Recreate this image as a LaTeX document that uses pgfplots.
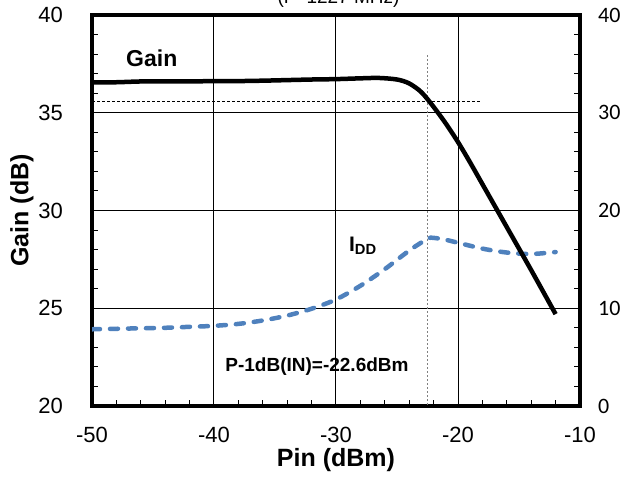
\documentclass[border=0pt]{standalone}
\usepackage{pgfplots}
\pgfplotsset{compat=1.18}
\usepackage{fontspec}
\setmainfont{Liberation Sans}
\newfontfamily\carlito{Carlito}
\definecolor{iddblue}{RGB}{79,129,189}
\begin{document}
\begin{tikzpicture}
% main axis: frame, grid, left/bottom ticks
\begin{axis}[
  name=ax,
  scale only axis, width=488bp, height=391bp,
  xmin=-50, xmax=-10, ymin=20, ymax=40,
  xtick={-50,-40,-30,-20,-10}, ytick={20,25,30,35,40},
  minor x tick num=4, minor y tick num=4,
  tick align=inside, xtick pos=bottom, ytick pos=left,
  major tick length=6bp, minor tick length=6bp,
  every tick/.style={black, line width=1bp},
  grid=major, major grid style={black, line width=1bp},
  axis line style={line width=4.5bp, black},
  /pgf/number format/assume math mode=true,
  xticklabel style={font=\fontsize{22bp}{22bp}\selectfont, anchor=north, inner sep=0pt, yshift=-21bp},
  yticklabel style={font=\fontsize{22bp}{22bp}\selectfont, anchor=east, inner sep=0pt, xshift=-29bp},
]
\end{axis}
% right axis: IDD
\begin{axis}[
  scale only axis, width=488bp, height=391bp,
  xmin=-50, xmax=-10, ymin=0, ymax=40,
  axis x line=none, axis y line*=right,
  ytick={0,10,20,30,40}, minor y tick num=4,
  tick align=inside, major tick length=6bp, minor tick length=6bp,
  every tick/.style={black, line width=1bp},
  axis line style={line width=4.5bp, black},
  /pgf/number format/assume math mode=true,
  yticklabel style={font=\carlito\fontsize{22bp}{22bp}\selectfont, anchor=west, inner sep=0pt, xshift=18bp},
]
\addplot[iddblue, line width=4.5bp, line cap=round, dash pattern=on 8bp off 10bp, smooth, tension=0.5] coordinates {
(-50,7.85) (-48,7.9) (-46,7.95) (-44,8.0) (-42,8.1) (-40,8.2) (-38,8.4) (-36,8.75)
(-34,9.25) (-32,9.95) (-30,10.9) (-28,12.3) (-26,14.0) (-24,15.9) (-22.5,17.1)
(-22,17.2) (-21,17.0) (-20,16.7) (-18,16.1) (-16,15.7) (-14,15.55) (-12,15.75)
};
\end{axis}
% gain plot, reference lines and annotations
\begin{axis}[
  scale only axis, width=488bp, height=391bp,
  xmin=-50, xmax=-10, ymin=20, ymax=40,
  hide axis, clip=false,
]
\addplot[black, line width=1bp, dash pattern=on 3bp off 2bp] coordinates {(-50,35.55) (-18.2,35.55)};
\addplot[gray, line width=1.5bp, dash pattern=on 2bp off 2bp] coordinates {(-22.5,37.95) (-22.5,20)};
\addplot[black, line width=4.5bp, smooth, tension=0.5] coordinates {
(-50,36.55) (-48,36.56) (-46,36.6) (-44,36.6) (-42,36.6) (-40,36.62) (-38,36.62)
(-36,36.64) (-34,36.67) (-32,36.7) (-30,36.72) (-28,36.76) (-26.5,36.78) (-25,36.7)
(-24,36.5) (-23,36.05) (-22,35.3) (-21,34.45) (-20,33.5)
(-19,32.45) (-18,31.35) (-16,29.15) (-14,26.95) (-12,24.7)
};
\node[font=\bfseries\fontsize{23bp}{23bp}\selectfont] at (axis cs:-45.1,37.8) {Gain};
\node[font=\bfseries\fontsize{21bp}{21bp}\selectfont] at (axis cs:-27.8,28.18) {I\textsubscript{DD}};
\node[font=\bfseries\fontsize{19bp}{19bp}\selectfont] at (axis cs:-31.56,22.0) {P-1dB(IN)=-22.6dBm};
\end{axis}
\node[font=\fontsize{19bp}{19bp}\selectfont, anchor=base] at ([xshift=2.5bp, yshift=11bp]ax.north) {(F=1227 MHz)};
\node[font=\bfseries\fontsize{25bp}{25bp}\selectfont, rotate=90] at ([xshift=-70bp]ax.west) {Gain (dB)};
\node[font=\bfseries\fontsize{25bp}{25bp}\selectfont] at ([yshift=-54.5bp]ax.south) {Pin (dBm)};
\pgfresetboundingbox
\path[use as bounding box] ([shift={(-92bp,-73bp)}]ax.south west) rectangle ([shift={(45bp,15bp)}]ax.north east);
\end{tikzpicture}
\end{document}
